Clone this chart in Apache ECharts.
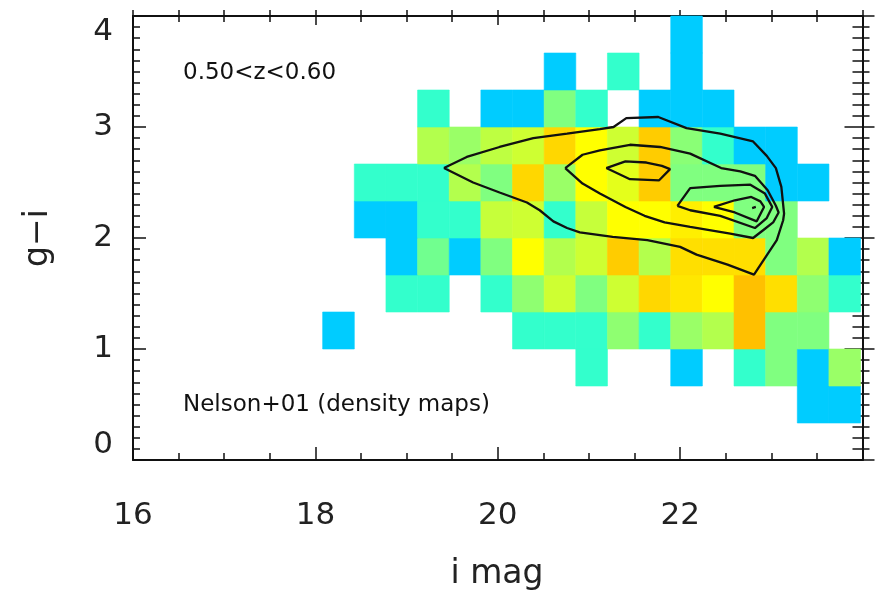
<!DOCTYPE html>
<html><head><meta charset="utf-8">
<script src="https://cdn.jsdelivr.net/npm/echarts@6/dist/echarts.min.js"></script>
<style>html,body{margin:0;padding:0;background:#fff}#c{width:875px;height:598px}</style>
</head><body><div id="c"></div>
<script>
// ---- data ----
const xTickLabels = [16, 18, 20, 22];
const yTickLabels = [0, 1, 2, 3, 4];
const magBinStart = 18.08, magBinWidth = 0.347;      // i mag bins
const gmiBinStart = 1 / 3, gmiBinHeight = 1 / 3;      // g-i bins
// density level per cell, rows from bottom (g-i low) to top, columns from bright to faint mag
const densityRows = [
  [0,0,0,0,0,0,0,0,0,0,0,0,0,0,0,1,1],
  [0,0,0,0,0,0,0,0,2,0,0,1,0,2,3,1,3.5],
  [1,0,0,0,0,0,2,2,2,3.3,2,3.5,4,8,3,3,0],
  [0,0,2,2,0,2,3.3,4.7,3,4.7,7,6.6,6,8,6.8,3.3,2],
  [0,0,1,2.8,1,3,6,4,4.7,7.5,4,6.8,6.8,6.8,3,4,1],
  [0,1,1,2,2,4.5,4.7,2,4.5,6,6,6.4,6,3,3,0,0],
  [0,2,2,2,4,3,7,3.5,6,5.3,7.5,3,3,3,1,1,0],
  [0,0,0,4,3.5,4.3,4.7,7,6,4.7,7.5,3.2,2,1,1,0,0],
  [0,0,0,2,0,1,1,3,2,0,1,1,1,0,0,0,0],
  [0,0,0,0,0,0,0,1,0,2,0,1,0,0,0,0,0],
  [0,0,0,0,0,0,0,0,0,0,0,1,0,0,0,0,0]
];
const contourOuter = [[19.41,2.63],[19.66,2.73],[20.02,2.82],[20.39,2.90],[20.76,2.94],[21.12,2.98],[21.27,3.00],[21.41,3.08],[21.76,3.09],[22.07,2.99],[22.44,2.94],[22.80,2.87],[22.95,2.74],[23.05,2.63],[23.11,2.46],[23.14,2.22],[23.13,2.16],[23.06,1.98],[22.81,1.67],[22.52,1.76],[22.18,1.85],[22.00,1.92],[21.64,1.98],[21.26,2.01],[20.90,2.05],[20.76,2.09],[20.61,2.15],[20.46,2.25],[20.32,2.32],[20.02,2.41],[19.73,2.50],[19.41,2.63]];
const contourSecond = [[20.74,2.63],[20.93,2.75],[21.12,2.79],[21.45,2.84],[21.78,2.82],[22.11,2.76],[22.45,2.63],[22.66,2.60],[22.82,2.56],[22.96,2.43],[23.05,2.29],[23.08,2.23],[23.02,2.14],[22.91,2.07],[22.80,2.00],[22.55,2.04],[22.11,2.10],[21.83,2.14],[21.61,2.20],[21.40,2.28],[21.12,2.40],[20.93,2.49],[20.74,2.63]];
const contourThirdLeft = [[21.19,2.63],[21.40,2.69],[21.63,2.68],[21.80,2.65],[21.89,2.62],[21.77,2.52],[21.45,2.53],[21.19,2.63]];
const contourThirdRight = [[21.97,2.29],[22.11,2.45],[22.44,2.47],[22.77,2.48],[22.93,2.40],[23.01,2.28],[22.95,2.18],[22.82,2.09],[22.44,2.20],[22.11,2.25],[21.97,2.29]];
const contourFourth = [[22.37,2.28],[22.60,2.34],[22.78,2.37],[22.88,2.33],[22.92,2.28],[22.84,2.15],[22.60,2.23],[22.37,2.28]];
const contourPeak = [[22.79,2.27],[22.83,2.28],[22.81,2.29],[22.79,2.27]];
const levelColors = ['#00CCFF','#33FFCC','#80FF80','#B3FF4D','#D9FF26','#FFFF00','#FFD700','#FFC000'];

// ---- build ----
const cells = [];
densityRows.forEach((row, r) => row.forEach((v, c) => {
  if (v > 0) cells.push([magBinStart + c * magBinWidth, gmiBinStart + r * gmiBinHeight, v]);
}));
const FONT = 'DejaVu Sans';
const BLK = '#111';
function xAx(extra) {
  return Object.assign({
    type: 'value', min: 16, max: 24, interval: 2,
    axisLine: { show: true, onZero: false, lineStyle: { color: BLK, width: 2 } },
    axisTick: { show: true, inside: true, length: 13, lineStyle: { color: BLK, width: 1.5 } },
    minorTick: { show: true, splitNumber: 4, length: 7, lineStyle: { color: BLK, width: 1.5 } },
    splitLine: { show: false }, minorSplitLine: { show: false },
    axisLabel: { show: false }
  }, extra);
}
function yAx(extra) {
  return Object.assign({
    type: 'value', min: 0, max: 4, interval: 1,
    axisLine: { show: true, onZero: false, lineStyle: { color: BLK, width: 2 } },
    axisTick: { show: true, inside: true, length: 13, lineStyle: { color: BLK, width: 1.5 } },
    minorTick: { show: true, splitNumber: 10, length: 7, lineStyle: { color: BLK, width: 1.5 } },
    splitLine: { show: false }, minorSplitLine: { show: false },
    axisLabel: { show: false }
  }, extra);
}
function contour(d) {
  return { type: 'line', xAxisIndex: 0, yAxisIndex: 0, data: d, showSymbol: false, symbol: 'none',
    lineStyle: { color: BLK, width: 2.3 }, z: 5, silent: true };
}
const chart = echarts.init(document.getElementById('c'));
chart.setOption({
  animation: false,
  backgroundColor: '#fff',
  grid: { left: 133, right: 12.5, top: 16, bottom: 138 },
  xAxis: [
    xAx({ position: 'bottom', axisLabel: { show: true, margin: 40, fontSize: 31, fontFamily: FONT, color: '#222',
      showMaxLabel: false, formatter: v => xTickLabels.includes(v) ? String(v) : '' } }),
    xAx({ position: 'top', axisTick: { show: true, inside: true, length: 9, lineStyle: { color: BLK, width: 1.5 } },
      minorTick: { show: true, splitNumber: 4, length: 6, lineStyle: { color: BLK, width: 1.5 } } }),
    xAx({ position: 'top', axisLine: { show: false, onZero: false },
      axisTick: { show: true, inside: false, length: 6, lineStyle: { color: BLK, width: 1.5 } },
      minorTick: { show: true, splitNumber: 4, length: 6, lineStyle: { color: BLK, width: 1.5 } } })
  ],
  yAxis: [
    yAx({ position: 'left', axisLabel: { show: true, margin: 20, fontSize: 31, fontFamily: FONT, color: '#222',
      verticalAlignMinLabel: 'bottom', verticalAlignMaxLabel: 'top',
      formatter: v => yTickLabels.includes(v) ? String(v) : '' } }),
    yAx({ position: 'right', axisTick: { show: true, inside: true, length: 18, lineStyle: { color: BLK, width: 1.5 } },
      minorTick: { show: true, splitNumber: 10, length: 10, lineStyle: { color: BLK, width: 1.5 } } }),
    yAx({ position: 'right', axisLine: { show: false, onZero: false },
      axisTick: { show: true, inside: false, length: 12, lineStyle: { color: BLK, width: 1.5 } },
      minorTick: { show: true, splitNumber: 10, length: 7, lineStyle: { color: BLK, width: 1.5 } } })
  ],
  visualMap: { show: false, type: 'continuous', min: 1, max: 8, dimension: 2, seriesIndex: 0,
    inRange: { color: levelColors } },
  series: [
    { type: 'custom', xAxisIndex: 0, yAxisIndex: 0, data: cells, encode: { x: 0, y: 1 }, z: 1, silent: true,
      renderItem: function (params, api) {
        const x0 = api.value(0), y0 = api.value(1);
        const p0 = api.coord([x0, y0 + gmiBinHeight]);
        const p1 = api.coord([x0 + magBinWidth, y0]);
        const col = api.visual('color');
        return { type: 'rect', shape: { x: p0[0], y: p0[1], width: p1[0] - p0[0], height: p1[1] - p0[1] },
          style: { fill: col, stroke: col, lineWidth: 0.6 } };
      } },
    contour(contourOuter), contour(contourSecond), contour(contourThirdLeft),
    contour(contourThirdRight), contour(contourFourth), contour(contourPeak)
  ],
  graphic: [
    { type: 'text', left: 183, top: 62, z: 10, style: { text: '0.50<z<0.60', font: '23px "DejaVu Sans"', fill: BLK } },
    { type: 'text', left: 183, top: 394, z: 10, style: { text: 'Nelson+01 (density maps)', font: '23px "DejaVu Sans"', fill: BLK } },
    { type: 'text', x: 497, y: 574, z: 10, style: { text: 'i mag', font: '33px "DejaVu Sans"', fill: '#222', align: 'center', verticalAlign: 'middle' } },
    { type: 'text', x: 38, y: 238, rotation: Math.PI / 2, z: 10, style: { text: 'g\u2212i', font: '33px "DejaVu Sans"', fill: '#222', align: 'center', verticalAlign: 'middle' } }
  ]
});
</script></body></html>
